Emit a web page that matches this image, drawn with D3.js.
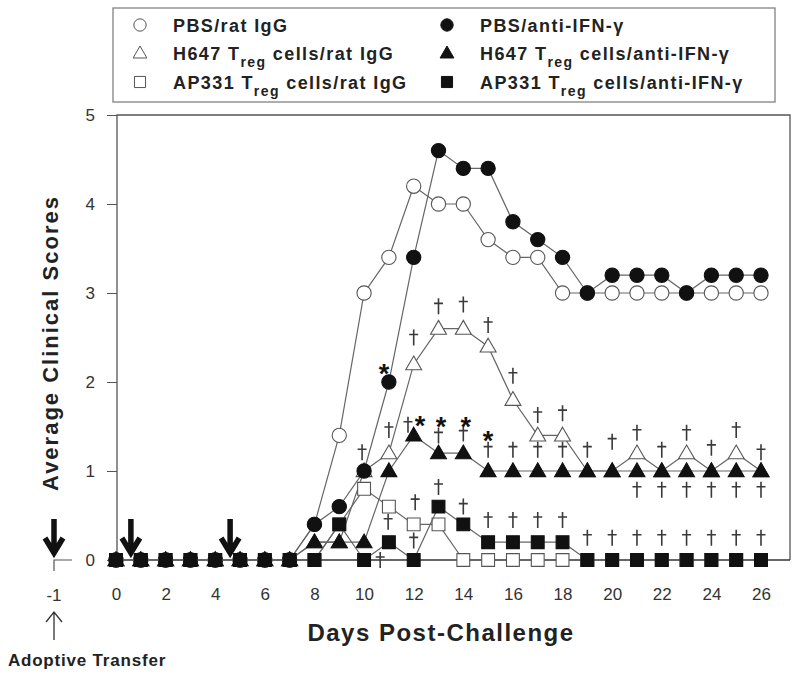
<!DOCTYPE html>
<html>
<head>
<meta charset="utf-8" />
<script src="https://d3js.org/d3.v7.min.js"></script>
<style>
  body { margin: 0; background: #fff; }
  text { font-family: Arial, "Liberation Sans", sans-serif; fill: #222; }
  .tick text { font-size: 17px; fill: #333; }
  .tick line { stroke: #555; }
  .bold { font-weight: bold; }
</style>
</head>
<body>
<svg id="chart" width="800" height="677"></svg>
<script>
// ---- data ----
var days = d3.range(0, 27);
var seriesNames = [
  "PBS/rat IgG",
  "H647 Treg cells/rat IgG",
  "AP331 Treg cells/rat IgG",
  "PBS/anti-IFN-γ",
  "H647 Treg cells/anti-IFN-γ",
  "AP331 Treg cells/anti-IFN-γ"
];
var pbsIgG      = [0,0,0,0,0,0,0,0,0.4,1.4,3.0,3.4,4.2,4.0,4.0,3.6,3.4,3.4,3.0,3.0,3.0,3.0,3.0,3.0,3.0,3.0,3.0];
var h647IgG     = [0,0,0,0,0,0,0,0,0.2,0.2,1.0,1.2,2.2,2.6,2.6,2.4,1.8,1.4,1.4,1.0,1.0,1.2,1.0,1.2,1.0,1.2,1.0];
var ap331IgG    = [0,0,0,0,0,0,0,0,0,0.4,0.8,0.6,0.4,0.4,0,0,0,0,0,0,0,0,0,0,0,0,0];
var pbsIFN      = [0,0,0,0,0,0,0,0,0.4,0.6,1.0,2.0,3.4,4.6,4.4,4.4,3.8,3.6,3.4,3.0,3.2,3.2,3.2,3.0,3.2,3.2,3.2];
var h647IFN     = [0,0,0,0,0,0,0,0,0.2,0.2,0.2,1.0,1.4,1.2,1.2,1.0,1.0,1.0,1.0,1.0,1.0,1.0,1.0,1.0,1.0,1.0,1.0];
var ap331IFN    = [0,0,0,0,0,0,0,0,0,0.4,0,0.2,0,0.6,0.4,0.2,0.2,0.2,0.2,0,0,0,0,0,0,0,0];

var xTicks = d3.range(0, 27, 2);
var yTicks = [0, 1, 2, 3, 4, 5];

// significance marks as [day, score]
var daggers = [
  [11,1.46],[12,2.5],[13,2.85],[14,2.87],[15,2.64],[16,2.07],[17,1.63],[18,1.65],[21,1.43],[23,1.43],[25,1.46],
  [11.77,1.52],[13,1.40],[14,1.42],[15,1.24],[16,1.24],[17,1.24],[18,1.24],[19,1.24],[20,1.33],[22,1.24],[24,1.26],[26,1.21],
  [9.92,1.21],
  [21,0.79],[22,0.79],[23,0.79],[24,0.79],[25,0.79],[26,0.79],
  [13.0,0.82],[12.06,0.65],[14,0.6],[15,0.45],[16,0.45],[17,0.45],[18,0.45],[10.97,0.43],[12,0.22],[10.65,0.0],
  [19,0.25],[20,0.25],[21,0.25],[22,0.25],[23,0.25],[24,0.25],[25,0.25],[26,0.25]
];
var stars = [[10.8,2.17],[12.25,1.59],[13.1,1.58],[14.1,1.58],[15,1.42]];
var arrowDays = [0.6, 4.6];

var svg = d3.select("#chart");

var x = d3.scaleLinear().domain([0, 26]).range([116, 761]);
var y = d3.scaleLinear().domain([0, 5]).range([560, 115]);
var left = 117, right = 790;
var breakX = x(0) - 62;

// frame
svg.append("path")
  .attr("d", "M" + left + "," + y(0) + "V" + y(5) + "H" + right + "V" + y(0))
  .attr("fill", "none").attr("stroke", "#555").attr("stroke-width", 1.3);
svg.append("line")
  .attr("x1", x(0) - 8).attr("x2", right).attr("y1", y(0)).attr("y2", y(0))
  .attr("stroke", "#333").attr("stroke-width", 1.5);

// axes
var xAxis = svg.append("g").attr("transform", "translate(0," + y(0) + ")")
  .call(d3.axisBottom(x).tickValues(xTicks).tickSize(6).tickPadding(22));
xAxis.select(".domain").remove();

var yAxis = svg.append("g").attr("transform", "translate(" + left + ",0)")
  .call(d3.axisLeft(y).tickValues(yTicks).tickFormat(d3.format("d")).tickSize(10).tickPadding(12));
yAxis.select(".domain").remove();

// the broken axis at day -1
svg.append("path")
  .attr("d", "M" + (breakX + 18) + "," + y(0) + "H" + breakX + "V" + (y(0) + 11))
  .attr("fill", "none").attr("stroke", "#555").attr("stroke-width", 1.2);
svg.append("text").attr("x", breakX).attr("y", y(0) + 41)
  .attr("text-anchor", "middle").style("font-size", "17px").style("fill", "#333").text("-1");

// thin up arrow + label
svg.append("path")
  .attr("d", "M" + breakX + "," + 640 + "V" + 612 + "M" + (breakX - 8) + "," + 622 + "L" + breakX + "," + 612 + "L" + (breakX + 8) + "," + 622)
  .attr("fill", "none").attr("stroke", "#333").attr("stroke-width", 1.3);
svg.append("text").attr("class", "bold").attr("x", 87).attr("y", 666)
  .attr("text-anchor", "middle").style("font-size", "17px").style("letter-spacing", "0.8px")
  .text("Adoptive Transfer");

// bold down arrows
var arrowXs = [breakX].concat(arrowDays.map(function(d) { return x(d); }));
svg.selectAll(".bigArrow").data(arrowXs).enter().append("path")
  .attr("class", "bigArrow")
  .attr("d", function(d) {
    return "M" + d + ",519V552M" + (d - 9) + ",538L" + d + ",553L" + (d + 9) + ",538";
  })
  .attr("fill", "none").attr("stroke", "#111").attr("stroke-width", 5.5)
  .attr("stroke-linejoin", "miter");

// titles
svg.append("text").attr("class", "bold")
  .attr("transform", "translate(58," + 343 + ") rotate(-90)")
  .attr("text-anchor", "middle").style("font-size", "22px").style("letter-spacing", "2px")
  .text("Average Clinical Scores");
svg.append("text").attr("class", "bold")
  .attr("x", 441).attr("y", 641).attr("text-anchor", "middle")
  .style("font-size", "24px").style("letter-spacing", "1.5px").text("Days Post-Challenge");

// series
var series = [
  { name: seriesNames[0], values: pbsIgG,   shape: d3.symbolCircle,   size: 160, filled: false },
  { name: seriesNames[1], values: h647IgG,  shape: d3.symbolTriangle, size: 110, filled: false },
  { name: seriesNames[2], values: ap331IgG, shape: d3.symbolSquare,   size: 165, filled: false },
  { name: seriesNames[3], values: pbsIFN,   shape: d3.symbolCircle,   size: 160, filled: true },
  { name: seriesNames[4], values: h647IFN,  shape: d3.symbolTriangle, size: 110, filled: true },
  { name: seriesNames[5], values: ap331IFN, shape: d3.symbolSquare,   size: 165, filled: true }
];

var line = d3.line().x(function(d, i) { return x(days[i]); }).y(function(d) { return y(d); });

series.forEach(function(s) {
  var g = svg.append("g");
  g.append("path").attr("d", line(s.values))
    .attr("fill", "none").attr("stroke", "#666").attr("stroke-width", 1.2);
  g.selectAll("path.pt").data(s.values).enter().append("path")
    .attr("class", "pt")
    .attr("transform", function(d, i) {
      var dy = s.shape === d3.symbolTriangle ? 1 : 0;
      return "translate(" + x(days[i]) + "," + (y(d) + dy) + ")";
    })
    .attr("d", d3.symbol().type(s.shape).size(s.size))
    .attr("fill", s.filled ? "#111" : "#fff")
    .attr("stroke", s.filled ? "#111" : "#555")
    .attr("stroke-width", 1.1);
});

// daggers (drawn as small crosses) and stars
svg.selectAll(".dagger").data(daggers).enter().append("path")
  .attr("class", "dagger")
  .attr("transform", function(d) { return "translate(" + x(d[0]) + "," + y(d[1]) + ")"; })
  .attr("d", "M0,-8V8M-4.5,-3H4.5")
  .attr("fill", "none").attr("stroke", "#3a3a3a").attr("stroke-width", 1.6);
svg.selectAll(".star").data(stars).enter().append("text")
  .attr("class", "star bold")
  .attr("x", function(d) { return x(d[0]); })
  .attr("y", function(d) { return y(d[1]); })
  .attr("dy", "0.6em").attr("text-anchor", "middle")
  .style("font-size", "27px").style("fill", "#111").text("*");

// legend
svg.append("rect").attr("x", 113).attr("y", 8).attr("width", 662).attr("height", 94)
  .attr("fill", "#fff").attr("stroke", "#777").attr("stroke-width", 1.2);

var legendRows = [25, 53, 82];
var legendCols = [140, 447];
series.forEach(function(s, k) {
  var col = Math.floor(k / 3), row = k % 3;
  var lx = legendCols[col], ly = legendRows[row];
  svg.append("path")
    .attr("transform", "translate(" + lx + "," + (ly + (s.shape === d3.symbolTriangle ? 1 : 0)) + ")")
    .attr("d", d3.symbol().type(s.shape).size(s.size * 0.75))
    .attr("fill", s.filled ? "#111" : "#fff")
    .attr("stroke", s.filled ? "#111" : "#555").attr("stroke-width", 1);
  var t = svg.append("text").attr("class", "bold").attr("x", lx + 33).attr("y", ly + 6.5)
    .style("font-size", "18px").style("letter-spacing", "1.4px");
  var parts = s.name.split("Treg");
  if (parts.length === 1) {
    t.text(s.name);
  } else {
    t.append("tspan").text(parts[0] + "T");
    t.append("tspan").attr("dy", 7).style("font-size", "14px").text("reg");
    t.append("tspan").attr("dy", -7).text(parts[1]);
  }
});
</script>
</body>
</html>
